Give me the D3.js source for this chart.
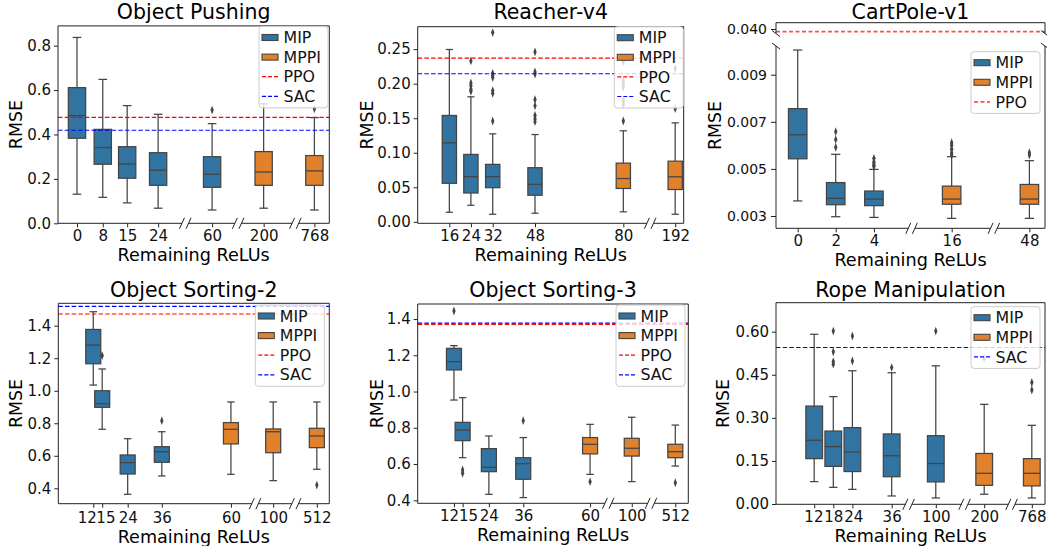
<!DOCTYPE html>
<html>
<head>
<meta charset="utf-8">
<script src="https://cdnjs.cloudflare.com/ajax/libs/d3/7.8.5/d3.min.js"></script>
<style>
  body { margin: 0; background: #fff; }
  svg { font-family: "DejaVu Sans", sans-serif; }
</style>
</head>
<body>
<svg id="fig" width="1047" height="546"></svg>
<script>
// box stats are [lower whisker, q1, median, q3, upper whisker]

// Object Pushing
var pushReLUs = [0, 8, 15, 24, 60, 200, 768];
var pushMethod = ["MIP", "MIP", "MIP", "MIP", "MIP", "MPPI", "MPPI"];
var pushBoxes = [
  [0.131, 0.383, 0.485, 0.611, 0.837],
  [0.117, 0.266, 0.341, 0.423, 0.648],
  [0.092, 0.203, 0.267, 0.345, 0.530],
  [0.068, 0.171, 0.239, 0.318, 0.491],
  [0.060, 0.162, 0.221, 0.300, 0.449],
  [0.068, 0.171, 0.231, 0.323, 0.538],
  [0.060, 0.171, 0.236, 0.305, 0.476]
];
var pushOutliers = [[], [], [], [], [0.510], [], [0.516]];
var pushBaselines = [["PPO", 0.477], ["SAC", 0.419]];

// Reacher-v4
var reachReLUs = [16, 24, 32, 48, 80, 192];
var reachMethod = ["MIP", "MIP", "MIP", "MIP", "MPPI", "MPPI"];
var reachBoxes = [
  [0.0139, 0.0558, 0.1144, 0.154, 0.2495],
  [0.024, 0.0418, 0.0654, 0.0976, 0.181],
  [0.011, 0.0495, 0.0654, 0.0832, 0.1274],
  [0.0125, 0.0385, 0.0543, 0.0784, 0.1264],
  [0.0145, 0.0483, 0.0627, 0.085, 0.1318],
  [0.011, 0.0468, 0.0652, 0.0878, 0.1433]
];
var reachOutliers = [
  [],
  [0.233, 0.201, 0.197, 0.192, 0.189],
  [0.274, 0.215, 0.212, 0.209, 0.190, 0.186, 0.146],
  [0.246, 0.217, 0.214, 0.177, 0.168, 0.154, 0.149, 0.145],
  [0.146, 0.170, 0.175, 0.195, 0.200, 0.204, 0.232],
  [0.164, 0.222]
];
var reachBaselines = [["PPO", 0.237], ["SAC", 0.2144]];

// CartPole-v1
var cartReLUs = [0, 2, 4, 16, 48];
var cartMethod = ["MIP", "MIP", "MIP", "MPPI", "MPPI"];
var cartBoxes = [
  [0.00364, 0.00543, 0.00645, 0.00756, 0.01005],
  [0.00297, 0.00348, 0.00375, 0.00442, 0.00562],
  [0.00294, 0.00344, 0.00372, 0.00406, 0.00498],
  [0.00290, 0.00350, 0.00372, 0.00427, 0.00552],
  [0.00290, 0.00350, 0.00372, 0.00434, 0.00535]
];
var cartOutliers = [
  [],
  [0.00658, 0.00625, 0.00592],
  [0.00545, 0.00530, 0.00522, 0.00515, 0.00510],
  [0.00611, 0.00599, 0.00583, 0.00568, 0.00559],
  [0.00569, 0.00559]
];
var cartBaselines = [["PPO", 0.03977]];

// Object Sorting-2
var sort2ReLUs = [12, 15, 24, 36, 60, 100, 512];
var sort2Method = ["MIP", "MIP", "MIP", "MIP", "MPPI", "MPPI", "MPPI"];
var sort2Boxes = [
  [1.035, 1.166, 1.281, 1.377, 1.486],
  [0.763, 0.898, 0.920, 1.000, 1.134],
  [0.363, 0.488, 0.558, 0.605, 0.705],
  [0.476, 0.560, 0.625, 0.656, 0.748],
  [0.486, 0.673, 0.763, 0.804, 0.931],
  [0.447, 0.619, 0.748, 0.765, 0.931],
  [0.517, 0.650, 0.722, 0.769, 0.931]
];
var sort2Outliers = [[], [1.216], [], [0.816], [], [], [0.420]];
var sort2Baselines = [["PPO", 1.472], ["SAC", 1.519]];

// Object Sorting-3
var sort3ReLUs = [12, 15, 24, 36, 60, 100, 512];
var sort3Method = ["MIP", "MIP", "MIP", "MIP", "MPPI", "MPPI", "MPPI"];
var sort3Boxes = [
  [0.953, 1.119, 1.165, 1.238, 1.253],
  [0.635, 0.729, 0.788, 0.830, 0.966],
  [0.433, 0.558, 0.582, 0.685, 0.755],
  [0.415, 0.516, 0.602, 0.635, 0.746],
  [0.543, 0.656, 0.709, 0.746, 0.819],
  [0.503, 0.644, 0.687, 0.742, 0.858],
  [0.589, 0.635, 0.668, 0.709, 0.815]
];
var sort3Outliers = [[1.444], [0.567, 0.549], [], [0.839], [0.503], [], [0.497]];
var sort3Baselines = [["PPO", 1.370], ["SAC", 1.377]];

// Rope Manipulation
var ropeReLUs = [12, 18, 24, 36, 100, 200, 768];
var ropeMethod = ["MIP", "MIP", "MIP", "MIP", "MIP", "MPPI", "MPPI"];
var ropeBoxes = [
  [0.078, 0.158, 0.222, 0.341, 0.591],
  [0.058, 0.131, 0.200, 0.254, 0.374],
  [0.051, 0.113, 0.181, 0.266, 0.464],
  [0.028, 0.095, 0.168, 0.244, 0.457],
  [0.021, 0.077, 0.141, 0.238, 0.481],
  [0.034, 0.065, 0.107, 0.176, 0.347],
  [0.021, 0.063, 0.107, 0.158, 0.274]
];
var ropeOutliers = [[], [0.602, 0.530, 0.496, 0.487], [0.585, 0.498], [0.475], [0.602], [0.507], [0.423, 0.397]];
var ropeBaselines = [["SAC", 0.545]];

var methodColor = { MIP: "#3274a1", MPPI: "#e1812c" };
var lineColor = { PPO: "#ff0000", SAC: "#0000ff" };
var gray = "#444444";

var panels = [
  { title: "Object Pushing", relus: pushReLUs, method: pushMethod, boxes: pushBoxes,
    outliers: pushOutliers, baselines: pushBaselines,
    left: 58, right: 329.3, top: 25.9, bottom: 223.3,
    yDomain: [0, 0.889], yTicks: [0, 0.2, 0.4, 0.6, 0.8], yFmt: ".1f",
    xFrac: [0.070, 0.165, 0.255, 0.369, 0.568, 0.758, 0.945], breaks: [0.469, 0.664, 0.875],
    boxW: 17.3, ylabelOff: 42.3, legTop: 0.6, legRight: 1.3 },
  { title: "Reacher-v4", relus: reachReLUs, method: reachMethod, boxes: reachBoxes,
    outliers: reachOutliers, baselines: reachBaselines,
    left: 417.7, right: 683.7, top: 26.7, bottom: 223.3,
    yDomain: [-0.0021, 0.2825], yTicks: [0, 0.05, 0.1, 0.15, 0.2, 0.25], yFmt: ".2f",
    xFrac: [0.119, 0.200, 0.282, 0.441, 0.773, 0.968], breaks: [0.874],
    boxW: 14.3, ylabelOff: 51, legTop: 0, legRight: 0.4 },
  { title: "CartPole-v1", relus: cartReLUs, method: cartMethod, boxes: cartBoxes,
    outliers: cartOutliers, baselines: cartBaselines,
    left: 776, right: 1045, top: 22.7, bottom: 228.3, lowerTop: 46,
    yDomain: [0.002478, 0.01022], yTicks: [0.003, 0.005, 0.007, 0.009], yFmt: ".3f",
    upper: { bottom: 33.5, domain: [0.0396, 0.04056], ticks: [0.040] },
    xFrac: [0.0807, 0.222, 0.364, 0.653, 0.942], breaks: [0.504, 0.810],
    boxW: 18.5, ylabelOff: 61, legTop: 5.7, legRight: 5, yTickFont: 14, yTickLen: 5, yTickPad: 4 },
  { title: "Object Sorting-2", relus: sort2ReLUs, method: sort2Method, boxes: sort2Boxes,
    outliers: sort2Outliers, baselines: sort2Baselines,
    left: 58.3, right: 329.3, top: 303.3, bottom: 503.7,
    yDomain: [0.3053, 1.5378], yTicks: [0.4, 0.6, 0.8, 1.0, 1.2, 1.4], yFmt: ".1f",
    xFrac: [0.129, 0.162, 0.256, 0.382, 0.637, 0.793, 0.954], breaks: [0.726, 0.874],
    labelNudge: [-6.5, 3.2], boxW: 15, ylabelOff: 42.6, legTop: 1.7, legRight: 5,
    titleGap: 6.6, xTickPad: 5, xlabelGap: 39 },
  { title: "Object Sorting-3", relus: sort3ReLUs, method: sort3Method, boxes: sort3Boxes,
    outliers: sort3Outliers, baselines: sort3Baselines,
    left: 417.7, right: 688.3, top: 304, bottom: 503.3,
    yDomain: [0.3835, 1.4827], yTicks: [0.4, 0.6, 0.8, 1.0, 1.2, 1.4], yFmt: ".1f",
    xFrac: [0.134, 0.166, 0.263, 0.390, 0.637, 0.791, 0.952], breaks: [0.704, 0.862],
    labelNudge: [-5, 5.3], boxW: 15, ylabelOff: 41, legTop: 1, legRight: 3.3, titleGap: 7.3 },
  { title: "Rope Manipulation", relus: ropeReLUs, method: ropeMethod, boxes: ropeBoxes,
    outliers: ropeOutliers, baselines: ropeBaselines,
    left: 776, right: 1045, top: 302.7, bottom: 504.3,
    yDomain: [-0.001, 0.7009], yTicks: [0, 0.15, 0.3, 0.45, 0.6], yFmt: ".2f",
    xFrac: [0.142, 0.213, 0.284, 0.430, 0.594, 0.774, 0.951], breaks: [0.493, 0.701, 0.876],
    labelNudge: [-0.8, 0, 0.8], boxW: 16.7, ylabelOff: 52.7, legTop: 4, legRight: 5, titleGap: 6 }
];

var svg = d3.select("#fig");
var diamond = d3.symbol().type(d3.symbolDiamond).size(17);

function styleAxis(a, size) {
  a.attr("font-family", "DejaVu Sans").attr("font-size", size);
  a.selectAll(".tick line").attr("stroke", "#222").attr("stroke-width", 1);
  a.selectAll(".tick text").attr("fill", "#111");
  a.select(".domain").remove();
}

panels.forEach(function(p) {
  var g = svg.append("g");
  var w = p.right - p.left;
  var lowTop = p.upper ? p.lowerTop : p.top;
  var x = d3.scaleLinear().domain(p.relus).range(p.xFrac.map(function(f) { return p.left + f * w; }));
  var y = d3.scaleLinear().domain(p.yDomain).range([p.bottom, lowTop]);
  var yUp = p.upper ? d3.scaleLinear().domain(p.upper.domain).range([p.upper.bottom, p.top]) : null;

  // y axis
  var yAxis = d3.axisLeft(y).tickValues(p.yTicks).tickFormat(d3.format(p.yFmt))
    .tickSize(p.yTickLen || 4).tickPadding(p.yTickPad || 3);
  styleAxis(g.append("g").attr("transform", "translate(" + p.left + ",0)").call(yAxis), p.yTickFont || 15);
  if (yUp) {
    var upAxis = d3.axisLeft(yUp).tickValues(p.upper.ticks).tickFormat(d3.format(p.yFmt))
      .tickSize(p.yTickLen || 4).tickPadding(p.yTickPad || 3);
    styleAxis(g.append("g").attr("transform", "translate(" + p.left + ",0)").call(upAxis), p.yTickFont || 15);
  }

  // x axis; crowded labels are pushed slightly apart
  var xAxis = d3.axisBottom(x).tickValues(p.relus).tickFormat(d3.format("d"))
    .tickSize(4).tickPadding(p.xTickPad || 3);
  var xa = g.append("g").attr("transform", "translate(0," + p.bottom + ")").call(xAxis);
  styleAxis(xa, 15);
  var nudge = p.labelNudge || [];
  xa.selectAll(".tick text").attr("dx", function(d, i) { return nudge[i] || 0; });

  // boxes
  p.relus.forEach(function(r, i) {
    var cx = x(r), s = p.boxes[i], bw = p.boxW, bg = g.append("g");
    bg.append("line").attr("x1", cx).attr("x2", cx).attr("y1", y(s[0])).attr("y2", y(s[1]));
    bg.append("line").attr("x1", cx).attr("x2", cx).attr("y1", y(s[3])).attr("y2", y(s[4]));
    bg.append("line").attr("x1", cx - bw / 4).attr("x2", cx + bw / 4).attr("y1", y(s[0])).attr("y2", y(s[0]));
    bg.append("line").attr("x1", cx - bw / 4).attr("x2", cx + bw / 4).attr("y1", y(s[4])).attr("y2", y(s[4]));
    bg.append("rect").attr("x", cx - bw / 2).attr("width", bw)
      .attr("y", y(s[3])).attr("height", y(s[1]) - y(s[3]))
      .attr("fill", methodColor[p.method[i]]);
    bg.append("line").attr("x1", cx - bw / 2).attr("x2", cx + bw / 2).attr("y1", y(s[2])).attr("y2", y(s[2]));
    bg.selectAll("line, rect").attr("stroke", gray).attr("stroke-width", 1.25);
    bg.selectAll("path").data(p.outliers[i]).enter().append("path")
      .attr("d", diamond)
      .attr("transform", function(v) { return "translate(" + cx + "," + y(v) + ") scale(0.75,1.15)"; })
      .attr("fill", gray);
  });

  // baselines
  p.baselines.forEach(function(b) {
    var yy = yUp ? yUp(b[1]) : y(b[1]);
    g.append("line").attr("x1", p.left).attr("x2", p.right).attr("y1", yy).attr("y2", yy)
      .attr("stroke", yUp ? "#ff4d4d" : lineColor[b[0]])
      .attr("stroke-width", yUp ? 1.6 : 1.2)
      .attr("stroke-dasharray", yUp ? "4,2.5" : "4.5,2.2");
  });

  // spines
  var sp = g.append("g").attr("stroke", "#222").attr("stroke-width", 1).attr("fill", "none");
  if (yUp) {
    [p.left, p.right].forEach(function(sx) {
      sp.append("line").attr("x1", sx).attr("x2", sx).attr("y1", p.top).attr("y2", p.upper.bottom);
      sp.append("line").attr("x1", sx).attr("x2", sx).attr("y1", lowTop).attr("y2", p.bottom);
      sp.append("line").attr("x1", sx - 4).attr("x2", sx + 4).attr("y1", p.upper.bottom - 3).attr("y2", p.upper.bottom + 3);
      sp.append("line").attr("x1", sx - 4).attr("x2", sx + 4).attr("y1", lowTop - 3).attr("y2", lowTop + 3);
    });
  } else {
    [p.left, p.right].forEach(function(sx) {
      sp.append("line").attr("x1", sx).attr("x2", sx).attr("y1", p.top).attr("y2", p.bottom);
    });
  }
  sp.append("line").attr("x1", p.left).attr("x2", p.right).attr("y1", p.top).attr("y2", p.top);
  var cuts = p.breaks.map(function(f) { return p.left + f * w; });
  var segStart = p.left;
  cuts.forEach(function(c) {
    sp.append("line").attr("x1", segStart).attr("x2", c - 3.3).attr("y1", p.bottom).attr("y2", p.bottom);
    segStart = c + 3.3;
    [-3.3, 3.3].forEach(function(o) {
      sp.append("line").attr("x1", c + o - 2.5).attr("x2", c + o + 2.5)
        .attr("y1", p.bottom + 5.5).attr("y2", p.bottom - 5.5);
    });
  });
  sp.append("line").attr("x1", segStart).attr("x2", p.right).attr("y1", p.bottom).attr("y2", p.bottom);

  // legend
  var items = [["MIP", "patch"], ["MPPI", "patch"]].concat(p.baselines.map(function(b) { return [b[0], "line"]; }));
  var legW = 69, rowH = 19.6;
  var lx = p.right - p.legRight - legW, ly = lowTop + p.legTop;
  var lg = g.append("g");
  lg.append("rect").attr("x", lx).attr("y", ly).attr("width", legW)
    .attr("height", 11 + rowH * (items.length - 1) + 11.5)
    .attr("rx", 3).attr("fill", "#fff").attr("fill-opacity", 0.8)
    .attr("stroke", "#cccccc").attr("stroke-width", 1);
  items.forEach(function(it, k) {
    var cy = ly + 11 + k * rowH;
    if (it[1] === "patch") {
      lg.append("rect").attr("x", lx + 3).attr("y", cy - 3).attr("width", 16).attr("height", 6)
        .attr("fill", methodColor[it[0]]).attr("stroke", gray).attr("stroke-width", 1.1);
    } else {
      lg.append("line").attr("x1", lx + 3).attr("x2", lx + 19).attr("y1", cy).attr("y2", cy)
        .attr("stroke", yUp ? "#ff4d4d" : lineColor[it[0]])
        .attr("stroke-width", yUp ? 1.6 : 1.2)
        .attr("stroke-dasharray", yUp ? "4,2.5" : "4,2");
    }
    lg.append("text").attr("x", lx + 24.5).attr("y", cy + 5.6)
      .attr("font-size", 15.8).attr("fill", "#111").text(it[0]);
  });

  // titles and labels
  var titleY = Math.max(p.top - (p.titleGap || 7.5), 19);
  g.append("text").attr("x", (p.left + p.right) / 2).attr("y", titleY)
    .attr("text-anchor", "middle").attr("font-size", 20.5).attr("fill", "#000").text(p.title);
  g.append("text").attr("x", (p.left + p.right) / 2).attr("y", p.bottom + (p.xlabelGap || 37.5))
    .attr("text-anchor", "middle").attr("font-size", 17.6).attr("fill", "#000").text("Remaining ReLUs");
  g.append("text")
    .attr("transform", "translate(" + (p.left - p.ylabelOff) + "," + ((p.top + p.bottom) / 2) + ") rotate(-90)")
    .attr("dy", "0.35em").attr("text-anchor", "middle").attr("font-size", 17.4).attr("fill", "#000").text("RMSE");
});
</script>
</body>
</html>
